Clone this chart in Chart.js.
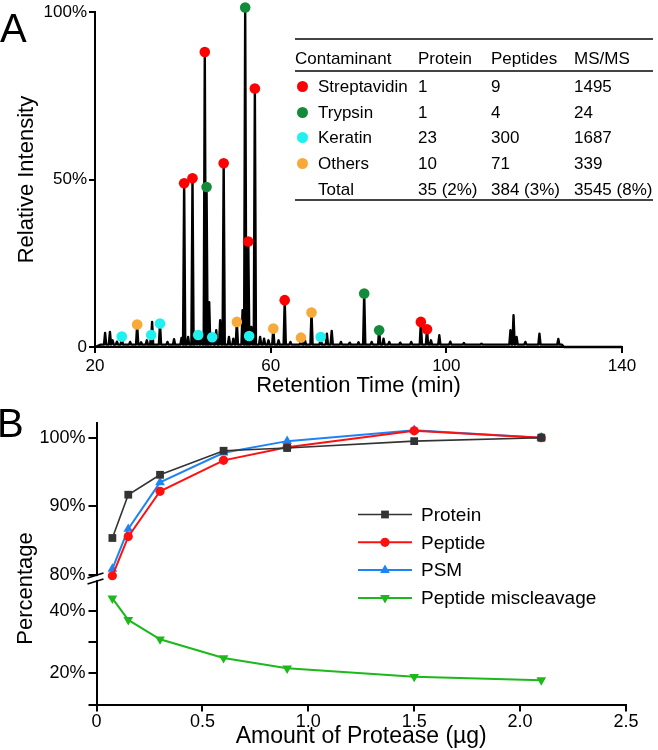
<!DOCTYPE html>
<html>
<head>
<meta charset="utf-8">
<script src="https://cdn.jsdelivr.net/npm/chart.js@4.4.1/dist/chart.umd.min.js"></script>
<style>
  body { margin: 0; background: #fff; font-family: "Liberation Sans", Arial, sans-serif; }
  #wrap { position: relative; width: 658px; height: 750px; overflow: hidden; }
  canvas { position: absolute; left: 0; }
  #chartA { top: 0; }
  #chartB { top: 392px; }
  .panel { position: absolute; font-size: 40px; line-height: 40px; color: #000; }
  .rule { position: absolute; left: 295px; width: 358px; height: 2px; background: #444; }
  .cell { position: absolute; font-size: 17px; line-height: 20px; color: #000; white-space: nowrap; }
  .dot { position: absolute; width: 11px; height: 11px; border-radius: 50%; }
</style>
</head>
<body>
<div id="wrap">
  <canvas id="chartA" width="658" height="400"></canvas>
  <canvas id="chartB" width="658" height="358"></canvas>
  <div class="panel" style="left:0px;top:8px;">A</div>
  <div class="panel" style="left:-3px;top:403px;">B</div>
  <div id="tbl"></div>
</div>
<script>
// ---- panel A: peaks in the chromatogram (retention time in min, relative intensity in %)
const streptavidinTime = [40.3, 42.2, 45.0, 49.3, 54.9, 56.4, 63.2, 94.2, 95.6];
const streptavidinInt  = [48.9, 50.4, 88.1, 54.9, 31.5, 77.2, 14.0, 7.5, 5.3];
const trypsinTime = [45.4, 54.2, 81.3, 84.7];
const trypsinInt  = [47.8, 101.4, 16.0, 5.0];
const keratinTime = [26.1, 32.8, 34.8, 43.5, 46.7, 55.1, 71.4];
const keratinInt  = [3.1, 3.6, 7.0, 3.6, 2.9, 3.3, 3.0];
const othersTime = [29.6, 52.3, 60.6, 66.9, 69.3];
const othersInt  = [6.7, 7.5, 5.5, 2.8, 10.3];
// peaks of the trace that carry no marker
const plainPeakTime = [22.3, 23.4, 24.0, 25.0, 28.0, 30.5, 31.8, 33.0, 36.5, 38.0, 39.7, 41.2, 43.0, 44.2,
  46.0, 47.6, 48.5, 50.5, 51.5, 53.6, 55.6, 57.6, 58.5, 59.5, 61.8, 64.5, 67.8, 72.8, 73.9, 76.0, 78.0,
  80.0, 83.0, 85.7, 87.0, 89.5, 92.0, 96.5, 98.4, 100.9, 104.0, 108.0, 114.6, 115.3, 116.0, 118.0, 121.2, 125.5];
const plainPeakInt = [4.2, 4.5, 2.0, 1.6, 1.5, 1.4, 2.0, 7.5, 1.5, 2.3, 2.7, 3.0, 4.5, 3.5,
  13.4, 5.0, 8.0, 3.0, 2.5, 11.0, 6.0, 3.0, 2.5, 2.0, 2.0, 1.5, 2.0, 4.0, 4.8, 1.5, 1.3,
  1.4, 1.5, 2.5, 1.5, 1.3, 1.5, 2.0, 3.5, 1.6, 1.2, 1.0, 5.0, 9.5, 3.0, 1.5, 4.0, 2.4];
const baseLevel = 0.7;
const timeTicks = [20, 60, 100, 140];

// table in panel A
const contaminants = ['Streptavidin', 'Trypsin', 'Keratin', 'Others'];
const contaminantColors = ['#ff0000', '#138b3b', '#1ff0f0', '#f7a93a'];
const proteinCounts = ['1', '1', '23', '10'];
const peptideCounts = ['9', '4', '300', '71'];
const msmsCounts = ['1495', '24', '1687', '339'];
const totalRow = ['Total', '35 (2%)', '384 (3%)', '3545 (8%)'];
const tableHeader = ['Contaminant', 'Protein', 'Peptides', 'MS/MS'];

// ---- panel B: amount of protease (µg) vs percentage
const proteaseAmount = [0.075, 0.15, 0.3, 0.6, 0.9, 1.5, 2.1];
const proteinPct = [85.4, 91.7, 94.6, 98.1, 98.5, 99.5, 100];
const peptidePct = [79.9, 85.6, 92.2, 96.7, 98.6, 101.0, 100];
const psmPct = [80.9, 86.7, 93.5, 97.8, 99.5, 101.1, 100];
const miscleavagePct = [44.0, 37.1, 30.9, 24.9, 21.6, 18.9, 17.8];

Chart.defaults.font.family = "'Liberation Sans', Arial, sans-serif";
Chart.defaults.color = '#000';

function pts(xs, ys) {
  return xs.map((x, i) => ({x: x, y: ys[i]}));
}

// ---------- table (html text)
const tbl = document.getElementById('tbl');
const colX = [318, 418, 491, 574];
function addCell(text, x, cy) {
  const d = document.createElement('div');
  d.className = 'cell';
  d.style.left = x + 'px';
  d.style.top = (cy - 10) + 'px';
  d.textContent = text;
  tbl.appendChild(d);
}
function addRule(y) {
  const r = document.createElement('div');
  r.className = 'rule';
  r.style.top = (y - 1) + 'px';
  tbl.appendChild(r);
}
addRule(39);
addRule(70.5);
addRule(200);
tableHeader.forEach((h, i) => addCell(h, i === 0 ? 295 : colX[i], 58.5));
contaminants.forEach((name, i) => {
  const cy = 87 + i * 25.6;
  const dot = document.createElement('div');
  dot.className = 'dot';
  dot.style.background = contaminantColors[i];
  dot.style.left = (302 - 5.5) + 'px';
  dot.style.top = (cy - 6) + 'px';
  tbl.appendChild(dot);
  addCell(name, colX[0], cy);
  addCell(proteinCounts[i], colX[1], cy);
  addCell(peptideCounts[i], colX[2], cy);
  addCell(msmsCounts[i], colX[3], cy);
});
totalRow.forEach((t, i) => addCell(t, colX[i], 189.5));

// ---------- panel A chart
const allTimes = [].concat(streptavidinTime, trypsinTime, keratinTime, othersTime, plainPeakTime);
const allInts = [].concat(streptavidinInt, trypsinInt, keratinInt, othersInt, plainPeakInt);
const peaks = allTimes.map((t, i) => ({t: t, h: allInts[i]})).sort((a, b) => a.t - b.t);
const trace = [{x: 20, y: 0}, {x: 21.3, y: baseLevel}];
peaks.forEach(p => {
  trace.push({x: p.t - 0.25, y: baseLevel}, {x: p.t, y: p.h}, {x: p.t + 0.25, y: baseLevel});
});
trace.push({x: 126.3, y: baseLevel}, {x: 126.8, y: 0}, {x: 140, y: 0});

function dotSet(label, xs, ys, color) {
  return {
    type: 'scatter', label: label, data: pts(xs, ys),
    pointRadius: 5.3, pointBackgroundColor: color, pointBorderWidth: 0,
    showLine: false, clip: false
  };
}

new Chart(document.getElementById('chartA'), {
  type: 'line',
  data: {
    datasets: [
      dotSet('Streptavidin', streptavidinTime, streptavidinInt, contaminantColors[0]),
      dotSet('Trypsin', trypsinTime, trypsinInt, contaminantColors[1]),
      dotSet('Keratin', keratinTime, keratinInt, contaminantColors[2]),
      dotSet('Others', othersTime, othersInt, contaminantColors[3]),
      {
        label: 'trace', data: trace, borderColor: '#000', borderWidth: 2.4,
        borderJoinStyle: 'round', pointRadius: 0, tension: 0, clip: false
      }
    ]
  },
  options: {
    responsive: false, animation: false, devicePixelRatio: 1,
    layout: {padding: {top: 10, right: 36, left: 0, bottom: 0}},
    plugins: {legend: {display: false}, tooltip: {enabled: false}},
    scales: {
      x: {
        type: 'linear', min: 20, max: 140,
        afterBuildTicks: s => { s.ticks = timeTicks.map(v => ({value: v})); },
        afterFit: s => { s.height = 53; },
        ticks: {font: {size: 17}, padding: 3, maxRotation: 0, autoSkip: false},
        grid: {drawOnChartArea: false, tickLength: 6, color: '#000', lineWidth: 2},
        border: {color: '#000', width: 2},
        title: {display: true, text: 'Retention Time (min)', font: {size: 22}, padding: {top: 0, bottom: 1}}
      },
      y: {
        min: 0, max: 100,
        afterFit: s => { s.width = 95; },
        ticks: {stepSize: 50, font: {size: 17}, padding: 2, autoSkip: false,
          callback: v => v === 0 ? '0' : v + '%'},
        grid: {drawOnChartArea: false, tickLength: 6, color: '#000', lineWidth: 2},
        border: {color: '#000', width: 2},
        title: {display: true, text: 'Relative Intensity', font: {size: 22}, padding: {top: 14, bottom: 0}}
      }
    }
  }
});

// ---------- panel B chart
const panelBExtras = {
  id: 'panelBExtras',
  afterDraw(chart) {
    const ctx = chart.ctx;
    const yTop = chart.scales.yTop;
    const ax = yTop.right;
    const yb = yTop.bottom - 2;
    ctx.save();
    // axis break
    ctx.fillStyle = '#fff';
    ctx.beginPath();
    ctx.moveTo(ax - 9, yb + 2);
    ctx.lineTo(ax + 7, yb - 3);
    ctx.lineTo(ax + 7, yb + 1);
    ctx.lineTo(ax - 9, yb + 6);
    ctx.closePath();
    ctx.fill();
    ctx.strokeStyle = '#000';
    ctx.lineWidth = 1.6;
    ctx.beginPath();
    ctx.moveTo(ax - 9, yb + 1); ctx.lineTo(ax + 7, yb - 4);
    ctx.moveTo(ax - 9, yb + 7); ctx.lineTo(ax + 7, yb + 2);
    ctx.stroke();
    // legend
    ctx.font = "19px 'Liberation Sans', Arial, sans-serif";
    ctx.textBaseline = 'middle';
    ctx.textAlign = 'left';
    chart.data.datasets.forEach((ds, i) => {
      const y = 122.5 + i * 27.8;
      ctx.strokeStyle = ds.borderColor;
      ctx.lineWidth = ds.borderWidth;
      ctx.beginPath();
      ctx.moveTo(358, y); ctx.lineTo(412, y);
      ctx.stroke();
      ctx.fillStyle = ds.pointBackgroundColor;
      ctx.strokeStyle = ds.pointBackgroundColor;
      Chart.helpers.drawPoint(ctx, {
        pointStyle: ds.pointStyle, radius: ds.pointRadius,
        rotation: ds.pointRotation || 0, borderWidth: 0
      }, 385, y);
      ctx.fillStyle = '#000';
      ctx.fillText(ds.label, 421, y + 1);
    });
    // y title spanning both stacked axes
    ctx.font = "22px 'Liberation Sans', Arial, sans-serif";
    ctx.textAlign = 'center';
    ctx.translate(26, 196.5);
    ctx.rotate(-Math.PI / 2);
    ctx.fillText('Percentage', 0, 0);
    ctx.restore();
  }
};

function seriesSet(label, ys, color, style, radius, width, axis, rotation) {
  return {
    label: label, data: pts(proteaseAmount, ys), yAxisID: axis,
    borderColor: color, borderWidth: width, pointStyle: style, pointRadius: radius,
    pointRotation: rotation || 0, pointBackgroundColor: color, pointBorderWidth: 0,
    tension: 0, clip: false
  };
}

new Chart(document.getElementById('chartB'), {
  type: 'line',
  data: {
    datasets: [
      seriesSet('Protein', proteinPct, '#333333', 'rect', 5.5, 1.6, 'yTop'),
      seriesSet('Peptide', peptidePct, '#ff1010', 'circle', 4.6, 2, 'yTop'),
      seriesSet('PSM', psmPct, '#1e84f5', 'triangle', 5.6, 2, 'yTop'),
      seriesSet('Peptide miscleavage', miscleavagePct, '#1cb81c', 'triangle', 5.6, 2, 'yBot', 180)
    ]
  },
  options: {
    responsive: false, animation: false, devicePixelRatio: 1,
    layout: {padding: {top: 31, right: 32, left: 0, bottom: 0}},
    plugins: {legend: {display: false}, tooltip: {enabled: false}},
    scales: {
      x: {
        type: 'linear', min: 0, max: 2.5,
        afterFit: s => { s.height = 45.5; },
        ticks: {stepSize: 0.5, font: {size: 18}, padding: 0, maxRotation: 0, autoSkip: false,
          callback: v => v === 0 ? '0' : v.toFixed(1)},
        grid: {drawOnChartArea: false, tickLength: 7, color: '#000', lineWidth: 2},
        border: {color: '#000', width: 2},
        title: {display: true, text: 'Amount of Protease (µg)', font: {size: 23}, padding: {top: 0, bottom: 0}}
      },
      yBot: {
        type: 'linear', position: 'left', stack: 'pct', stackWeight: 125.5,
        min: 10, max: 50.2,
        afterFit: s => { s.width = 96.5; },
        afterBuildTicks: s => { s.ticks = s.ticks.filter(t => t.value <= 40); },
        ticks: {stepSize: 10, includeBounds: false, autoSkip: false, font: {size: 18}, padding: 3,
          callback: v => (Math.round(v) === 20 || Math.round(v) === 40) ? Math.round(v) + '%' : ''},
        grid: {drawOnChartArea: false, tickLength: 8, color: '#000', lineWidth: 2},
        border: {color: '#000', width: 2}
      },
      yTop: {
        type: 'linear', position: 'left', stack: 'pct', stackWeight: 156,
        min: 79.43, max: 102.14,
        afterFit: s => { s.width = 96.5; },
        ticks: {stepSize: 10, includeBounds: false, autoSkip: false, font: {size: 18}, padding: 3,
          callback: v => Math.round(v) + '%'},
        grid: {drawOnChartArea: false, tickLength: 8, color: '#000', lineWidth: 2},
        border: {color: '#000', width: 2}
      }
    }
  },
  plugins: [panelBExtras]
});
</script>
</body>
</html>
